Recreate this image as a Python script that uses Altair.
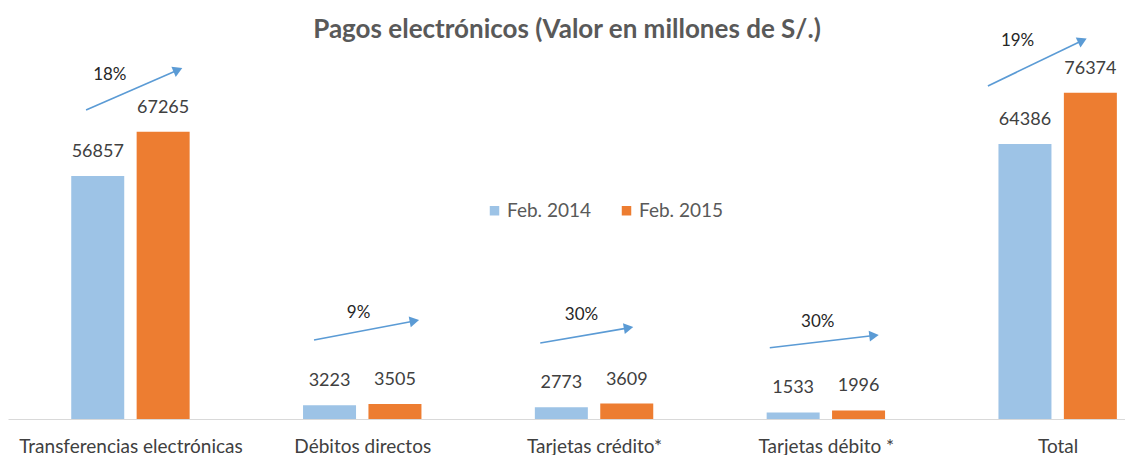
import math
import altair as alt
import pandas as pd

# ---- data ----
categories = ["Transferencias electrónicas", "Débitos directos", "Tarjetas crédito*",
              "Tarjetas débito *", "Total"]
feb2014 = [56857, 3223, 2773, 1533, 64386]
feb2015 = [67265, 3505, 3609, 1996, 76374]
growth = ["18%", "9%", "30%", "30%", "19%"]
series = ["Feb. 2014", "Feb. 2015"]
title_text = "Pagos electrónicos (Valor en millones de S/.)"

# ---- annotation geometry (arrow / label placement per group) ----
arrow_start_dx = [-0.1915, -0.208, -0.232, -0.242, -0.301]
arrow_end_dx = [0.2245, 0.246, 0.170, 0.229, 0.126]
arrow_start_v = [72331, 18492, 17790, 16690, 77949]
arrow_end_v = [82163, 23174, 21536, 19663, 89115]
label_dx = [-0.089, -0.016, -0.054, -0.035, -0.173]
label_v = [80524, 24813, 24345, 22776, 88553]

# ---- layout ----
W = 1117
H = 411
STEP = 233.9                 # px per category
PXU = 0.004272               # px per value unit
X_MIN = -118.5 / STEP
X_MAX = X_MIN + W / STEP
Y_MAX = H / PXU
BAR_OFF = 33 / STEP

FONT = "Lato, Liberation Sans, sans-serif"

rows = []
for i, c in enumerate(categories):
    rows.append({"cat": c, "idx": i, "serie": series[0], "value": feb2014[i], "xpos": i - BAR_OFF})
    rows.append({"cat": c, "idx": i, "serie": series[1], "value": feb2015[i], "xpos": i + BAR_OFF})
bars_df = pd.DataFrame(rows)

ann = []
for i in range(len(categories)):
    dxp = (arrow_end_dx[i] - arrow_start_dx[i]) * STEP
    dyp = (arrow_end_v[i] - arrow_start_v[i]) * PXU
    theta = math.atan2(dxp, dyp)
    back = 5.0
    hx = i + arrow_end_dx[i] - back * math.sin(theta) / STEP
    hv = arrow_end_v[i] - back * math.cos(theta) / PXU
    ann.append({
        "x1": i + arrow_start_dx[i], "v1": arrow_start_v[i],
        "x2": hx, "v2": hv, "angle": math.degrees(theta),
        "lx": i + label_dx[i], "lv": label_v[i], "label": growth[i],
    })
ann_df = pd.DataFrame(ann)

label_expr = "[" + ",".join("'" + c + "'" for c in categories) + "][datum.value]"

xscale = alt.Scale(domain=[X_MIN, X_MAX], nice=False, zero=False)
yscale = alt.Scale(domain=[0, Y_MAX], nice=False, zero=True)

base = alt.Chart(bars_df)

bars = base.mark_bar(size=53).encode(
    x=alt.X("xpos:Q", scale=xscale,
            axis=alt.Axis(values=list(range(len(categories))), labelExpr=label_expr,
                          title=None, grid=False, ticks=False, domainColor="#D9D9D9",
                          domainWidth=1, labelFontSize=19, labelColor="#404040",
                          labelFont=FONT, labelPadding=18, labelBaseline="top",
                          labelLimit=0)),
    y=alt.Y("value:Q", scale=yscale, axis=None),
    color=alt.Color("serie:N",
                    scale=alt.Scale(domain=series, range=["#9DC3E6", "#ED7D31"]),
                    legend=alt.Legend(title=None, orient="none", direction="horizontal",
                                      legendX=477, legendY=193, symbolType="square",
                                      symbolSize=90, symbolStrokeWidth=0,
                                      labelFontSize=19, labelColor="#595959",
                                      labelFont=FONT, labelOffset=3,
                                      columnPadding=25, padding=0)),
)

values = base.mark_text(fontSize=18, color="#404040", font=FONT, baseline="middle", dy=-24).encode(
    x="xpos:Q", y="value:Q", text="value:Q"
)

arrows = alt.Chart(ann_df).mark_rule(color="#5B9BD5", strokeWidth=1.6).encode(
    x="x1:Q", x2="x2:Q", y="v1:Q", y2="v2:Q"
)
heads = alt.Chart(ann_df).mark_point(shape="triangle-up", filled=True, size=120,
                                     color="#5B9BD5", opacity=1).encode(
    x="x2:Q", y="v2:Q", angle=alt.Angle("angle:Q", scale=None)
)
pct = alt.Chart(ann_df).mark_text(fontSize=17, color="#262626", font=FONT).encode(
    x="lx:Q", y="lv:Q", text="label:N"
)

title = alt.Chart(pd.DataFrame({"t": [title_text]})).mark_text(
    fontSize=26, font=FONT, fontWeight="bold", color="#595959", baseline="middle", align="center"
).encode(x=alt.value(559), y=alt.value(22), text="t:N")

chart = alt.layer(bars, values, arrows, heads, pct, title).properties(
    width=W, height=H,
    autosize=alt.AutoSizeParams(type="none"),
    padding={"top": 0, "left": 0, "right": 0, "bottom": 36},
).configure_view(stroke=None)

chart.save("out.html", embed_options={"renderer": "svg", "actions": False})
